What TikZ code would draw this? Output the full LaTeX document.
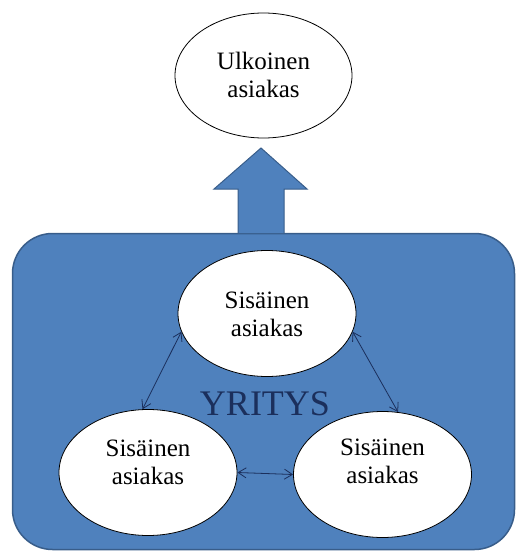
\documentclass[tikz,border=0pt]{standalone}
\usepackage{fontspec}
\setmainfont{Liberation Serif}
\usetikzlibrary{shapes.geometric,arrows.meta}
\definecolor{boxblue}{HTML}{4F81BD}
\definecolor{boxedge}{HTML}{385D8A}
\definecolor{navy}{HTML}{1B2F5C}
\tikzset{
  oval/.style={ellipse,draw=black,line width=0.8pt,fill=white,minimum width=178pt,minimum height=126pt,inner sep=0pt},
  ovaltext/.style={align=center,font=\fontsize{25}{28}\selectfont,inner sep=0pt},
  link/.style={draw=navy,line width=0.8pt,{Straight Barb[length=8pt,width=10pt]}-{Straight Barb[length=8pt,width=10pt]}}
}
\begin{document}
\begin{tikzpicture}[x=1pt,y=-1pt]
\useasboundingbox (0,0) rectangle (516,551);
% company box
\node[draw=boxedge,line width=1.5pt,fill=boxblue,rounded corners=40pt,minimum width=502pt,minimum height=316pt,inner sep=0pt] (company) at (263.5,391.5) {};
% block arrow
\draw[fill=boxblue,draw=boxedge,line width=1pt] (238,233)--(238,189)--(214,189)--(261,148)--(307,189)--(284,189)--(284,233);
% external customer
\node[oval,minimum width=177pt,minimum height=125pt] (ext) at (263.5,75.5) {};
\node[ovaltext] (extt) at (263.5,75) {Ulkoinen\\asiakas};
% internal customers
\node[oval] (top) at (267,313.5) {};
\node[ovaltext] (topt) at (267,314) {Sisäinen\\asiakas};
\node[oval] (bl) at (148,472.5) {};
\node[ovaltext] (blt) at (148,462) {Sisäinen\\asiakas};
\node[oval] (br) at (382.5,474.5) {};
\node[ovaltext] (brt) at (382.5,461) {Sisäinen\\asiakas};
% label
\node[font=\fontsize{36}{36}\selectfont,text=navy,inner sep=0pt] (yr) at (265,404) {YRITYS};
% connectors
\draw[link] (bl.95) -- (top.192);
\draw[link] (top.348) -- (br.76);
\draw[link] (bl.east) -- (br.west);
\end{tikzpicture}
\end{document}
